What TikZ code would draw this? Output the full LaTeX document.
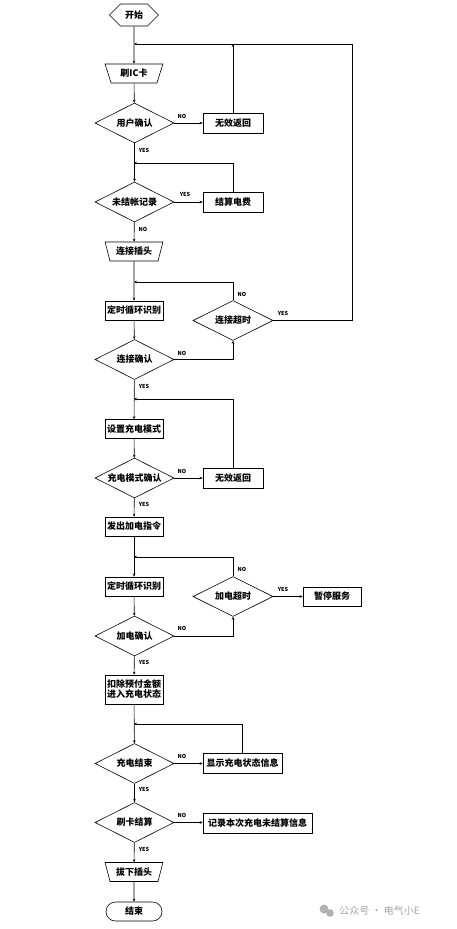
\documentclass[tikz,border=0pt]{standalone}
\usepackage{fontspec}
\newfontfamily\cjk{Noto Sans CJK SC}
\usetikzlibrary{shapes.geometric,shapes.misc,shapes.symbols,arrows.meta}

\begin{document}
\begin{tikzpicture}[x=1pt, y=-1pt, line width=0.6pt,
  every node/.style={font=\cjk\bfseries\fontsize{9}{10}\selectfont},
  box/.style={draw, rectangle, minimum width=58pt, minimum height=19pt, inner sep=0.5pt},
  wbox/.style={box, minimum width=60pt, minimum height=20pt},
  decide/.style={draw, diamond, aspect=2, minimum width=79pt, minimum height=40pt, inner sep=0pt},
  io/.style={draw, trapezium, shape border rotate=180, trapezium left angle=70,
    trapezium right angle=70, trapezium stretches=true, minimum width=58pt, minimum height=19pt, inner sep=1pt},
  term/.style={draw, signal, signal to=west and east, minimum width=49pt, minimum height=22pt, inner sep=1pt},
  yn/.style={font=\cjk\bfseries\fontsize{5.5}{6}\selectfont, inner sep=0pt},
  flow/.style={-{Stealth[length=3pt,width=2.6pt]}}
]
\useasboundingbox (0,0) rectangle (457,929);

% main column
\node[term] (start) at (134,15) {开始};
\node[io] (card) at (134,73.5) {刷IC卡};
\node[decide] (user) at (134.5,123) {用户确认};
\node[wbox] (inv1) at (233,123) {无效返回};
\node[decide] (unpaid) at (134.5,202) {未结帐记录};
\node[wbox] (settle) at (233,202) {结算电费};
\node[io] (plug) at (134,251.5) {连接插头};
\node[box] (scan1) at (134,310.5) {定时循环识别};
\node[decide, minimum width=80pt] (tout1) at (233,320.5) {连接超时};
\node[decide] (conf1) at (134.5,359.5) {连接确认};
\node[box] (mode) at (134,429) {设置充电模式};
\node[decide] (modeconf) at (134.5,478) {充电模式确认};
\node[wbox] (inv2) at (233,478) {无效返回};
\node[box] (power) at (134,526.5) {发出加电指令};
\node[box] (scan2) at (134,586.5) {定时循环识别};
\node[decide, minimum width=80pt] (tout2) at (233,596.5) {加电超时};
\node[box] (pause) at (332,596.5) {暂停服务};
\node[decide] (pconf) at (134.5,636) {加电确认};
\node[box, minimum height=29pt, align=center] (deduct) at (134,689.5) {扣除预付金额\\进入充电状态};
\node[decide] (endchk) at (134.5,763.5) {充电结束};
\node[wbox, minimum width=79pt] (disp) at (242.5,763) {显示充电状态信息};
\node[decide] (settle2) at (134.5,822.5) {刷卡结算};
\node[wbox, minimum width=109pt] (rec) at (257.5,823) {记录本次充电未结算信息};
\node[io] (unplug) at (134,872) {拔下插头};
\node[draw, rounded rectangle, minimum width=58pt, minimum height=19pt, inner sep=1pt] (finish) at (134,911.5) {结束};

% loop joints
\coordinate (j1) at (134,44);
\coordinate (c1) at (352,44);
\coordinate (j2) at (134,163);
\coordinate (j3) at (134,282);
\coordinate (j4) at (134,399);
\coordinate (j5) at (134,557);
\coordinate (j6) at (134,724);

% straight flow
\draw[flow] (start) -- (card);
\draw[flow] (card) -- (user);
\draw[flow] (user) -- (unpaid);
\draw[flow] (unpaid) -- (plug);
\draw[flow] (plug) -- (scan1);
\draw[flow] (scan1) -- (conf1);
\draw[flow] (conf1) -- (mode);
\draw[flow] (mode) -- (modeconf);
\draw[flow] (modeconf) -- (power);
\draw[flow] (power) -- (scan2);
\draw[flow] (scan2) -- (pconf);
\draw[flow] (pconf) -- (deduct);
\draw[flow] (deduct) -- (endchk);
\draw[flow] (endchk) -- (settle2);
\draw[flow] (settle2) -- (unplug);
\draw[flow] (unplug) -- (finish);

% branches
\draw[flow] (user) -- (inv1);
\draw[flow] (unpaid) -- (settle);
\draw[flow] (modeconf) -- (inv2);
\draw[flow] (tout2) -- (pause);
\draw[flow] (endchk.east) -- (disp.west |- endchk.east);
\draw[flow] (settle2.east) -- (rec.west |- settle2.east);
\draw[flow] (conf1.east) -| (tout1.south);
\draw[flow] (pconf.east) -| (tout2.south);

% loops back
\draw[flow] (inv1) -- (inv1 |- j1);
\draw[flow] (tout1.east) -| (c1) -- (j1);
\draw[flow] (settle) -- (settle |- j2) -- (j2);
\draw[flow] (tout1) -- (tout1 |- j3) -- (j3);
\draw[flow] (inv2) -- (inv2 |- j4) -- (j4);
\draw[flow] (tout2) -- (tout2 |- j5) -- (j5);
\draw[flow] (disp) -- (disp |- j6) -- (j6);

% yes / no
\node[yn] at (182,116) {NO};
\node[yn] at (144,150) {YES};
\node[yn] at (185,194) {YES};
\node[yn] at (143,229) {NO};
\node[yn] at (242,294) {NO};
\node[yn] at (283,313) {YES};
\node[yn] at (182,353) {NO};
\node[yn] at (144,386) {YES};
\node[yn] at (182,471) {NO};
\node[yn] at (144,504) {YES};
\node[yn] at (242,569) {NO};
\node[yn] at (283,589) {YES};
\node[yn] at (182,628) {NO};
\node[yn] at (144,662) {YES};
\node[yn] at (182,756) {NO};
\node[yn] at (144,789) {YES};
\node[yn] at (182,815) {NO};
\node[yn] at (144,849) {YES};

% watermark
\fill[gray!60] (324,909) circle (4.5pt);
\fill[gray!60] (330,913) circle (3.8pt);
\node[font=\cjk\fontsize{10}{12}\selectfont, text=gray!70, anchor=west, inner sep=0pt] (mark) at (339,911) {公众号 · 电气小E};
\end{tikzpicture}
\end{document}
